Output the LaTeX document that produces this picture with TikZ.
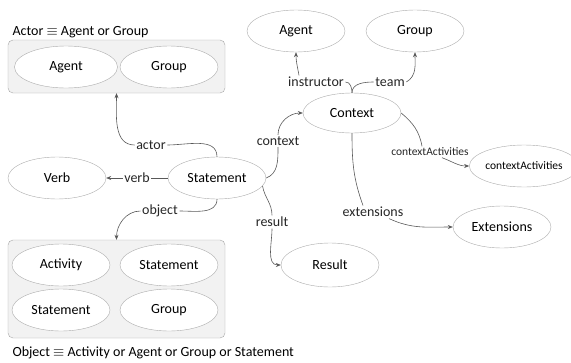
\documentclass[tikz,border=0pt]{standalone}
\usepackage{fontspec}
\setmainfont{Carlito}
\usetikzlibrary{arrows.meta,shapes.geometric}
\begin{document}
\begin{tikzpicture}[x=1pt,y=-1pt,font=\fontsize{14}{16}\selectfont,myv/.style={ellipse, draw=gray!65, fill=white, minimum width=98pt, minimum height=42pt, inner sep=0pt},myv1/.style={myv, font=\fontsize{11.5}{13}\selectfont},myb/.style={rectangle, rounded corners=5pt, draw=gray!70, fill=gray!10, minimum width=217pt},myl/.style={inner sep=1.5pt, text=black!85},myl1/.style={myl, font=\fontsize{11.5}{13}\selectfont},mye/.style={draw=black!65, line width=0.6pt},mya/.style={mye, -{Stealth[length=5pt,width=4pt]}}]
  \useasboundingbox (0,0) rectangle (571,362);

  % actor box
  \node[myb, minimum height=53pt] (actorbox) at (116.5,66.5) {};
  \node[anchor=west] (actortitle) at (9,32) {Actor $\equiv$ Agent or Group};
  \node[myv, minimum width=103pt] (agent1) at (66,67) {Agent};
  \node[myv] (group1) at (169,67) {Group};

  \node[myv] (stmt) at (217,178) {Statement};
  \node[myv] (verb) at (57,178) {Verb};
  \node[myl] (verbl) at (137,178) {verb};
  \node[myl] (actorl) at (151,145) {actor};
  \node[myl] (objectl) at (160,211) {object};

  % object box
  \node[myb, minimum height=98pt] (objbox) at (116.5,289) {};
  \node[myv] (activity) at (61,265) {Activity};
  \node[myv] (stmt2) at (169,265) {Statement};
  \node[myv] (stmt3) at (61,310) {Statement};
  \node[myv] (group3) at (169,310) {Group};
  \node[anchor=west] (objtitle) at (9,353) {Object $\equiv$ Activity or Agent or Group or Statement};

  \node[myv, minimum height=40pt] (ctx) at (352,113) {Context};
  \node[myv] (agent2) at (296,31) {Agent};
  \node[myv] (group2) at (415,31) {Group};
  \node[myl] (instrl) at (316,82) {instructor};
  \node[myl] (teaml) at (390,82) {team};
  \node[myl] (ctxl) at (278,141) {context};
  \node[myl] (resl) at (272,222) {result};
  \node[myv, minimum height=44pt] (result) at (330,265) {Result};
  \node[myl] (extl) at (373,212) {extensions};
  \node[myv] (ext) at (502,227) {Extensions};
  \node[myl1] (cactl) at (430,152) {contextActivities};
  \node[myv1, minimum width=94pt] (cact) at (524,166) {contextActivities};

    \draw[mye] (stmt.north) to[out=90,in=0] (actorl.east);
    \draw[mya] (actorl.west) to[out=180,in=-90] (actorbox.south);
    \draw[mye] (stmt.west) -- (verbl.east);
    \draw[mya] (verbl.west) -- (verb.east);
    \draw[mye] (stmt.south) to[out=-90,in=0] (objectl.east);
    \draw[mya] (objectl.west) to[out=180,in=90] (objbox.north);
    \draw[mye] (stmt.east) to[out=20,in=-90] (ctxl.south);
    \draw[mya] (ctxl.north) to[out=90,in=180] (ctx.west);
    \draw[mye] (stmt.-10) to[out=-80,in=90] (resl.north);
    \draw[mya] (resl.south) to[out=-90,in=180] (result.west);
    \draw[mye] (ctx.north) to[out=90,in=0] (instrl.east);
    \draw[mya] ([xshift=-17pt]instrl.north) to[out=100,in=-90] (agent2.south);
    \draw[mye] (ctx.north) to[out=90,in=180] (teaml.west);
    \draw[mya] (teaml.east) to[out=30,in=-90] (group2.south);
    \draw[mye] (ctx.east) to[out=-40,in=100] ([xshift=-8pt]cactl.north);
    \draw[mya] ([xshift=12pt]cactl.south) to[out=-20,in=180] (cact.west);
    \draw[mye] (ctx.south) to[out=-90,in=110] ([xshift=-10pt]extl.north);
    \draw[mya] ([xshift=16pt]extl.south) to[out=-25,in=180] (ext.west);

\end{tikzpicture}
\end{document}
